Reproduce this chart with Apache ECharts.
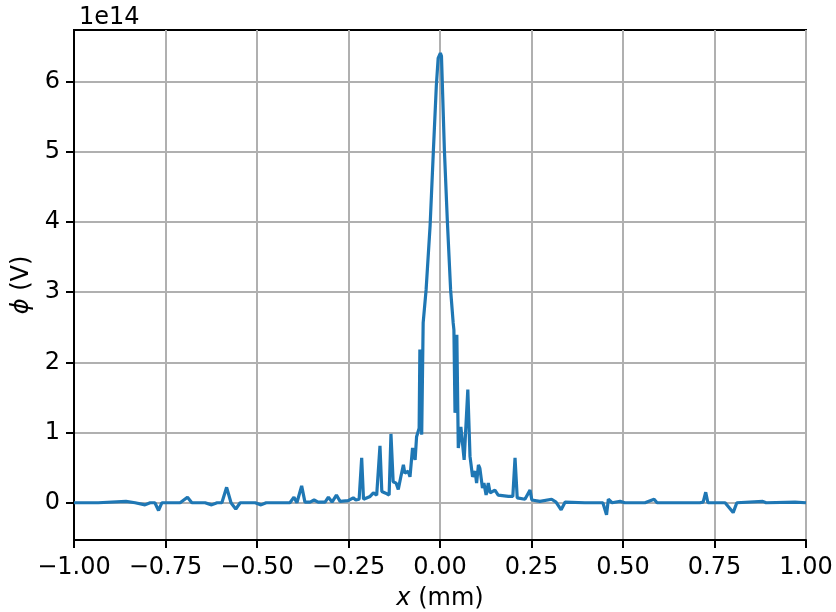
<!DOCTYPE html>
<html>
<head>
<meta charset="utf-8">
<script src="https://cdn.jsdelivr.net/npm/echarts@6/dist/echarts.min.js"></script>
<style>
  html, body { margin: 0; padding: 0; background: #fff; }
  #chart { width: 836px; height: 612px; }
</style>
</head>
<body>
<div id="chart"></div>
<script>
// x positions in mm
const xs = [
  -1.000, -0.934, -0.858, -0.833, -0.806, -0.792, -0.779, -0.769, -0.760, -0.710,
  -0.690, -0.678, -0.642, -0.624, -0.609, -0.596, -0.583, -0.571, -0.558, -0.546,
  -0.505, -0.489, -0.475, -0.410, -0.399, -0.391, -0.378, -0.369, -0.355, -0.344,
  -0.333, -0.314, -0.305, -0.295, -0.283, -0.273, -0.251, -0.246, -0.237, -0.230,
  -0.221, -0.214, -0.209, -0.191, -0.182, -0.173, -0.164, -0.159, -0.150, -0.139,
  -0.134, -0.128, -0.120, -0.114, -0.107, -0.100, -0.096, -0.087, -0.082, -0.075,
  -0.068, -0.064, -0.057, -0.055, -0.050, -0.046, -0.038, -0.027, -0.018, -0.010,
  -0.005, 0.001, 0.004, 0.012, 0.020, 0.029, 0.036, 0.038, 0.041, 0.046,
  0.050, 0.057, 0.066, 0.076, 0.082, 0.089, 0.096, 0.100, 0.105, 0.109,
  0.116, 0.120, 0.126, 0.132, 0.137, 0.150, 0.159, 0.187, 0.199, 0.205,
  0.211, 0.232, 0.246, 0.251, 0.273, 0.305, 0.317, 0.331, 0.342, 0.396,
  0.445, 0.455, 0.460, 0.470, 0.492, 0.505, 0.560, 0.585, 0.593, 0.710,
  0.719, 0.726, 0.732, 0.779, 0.801, 0.811, 0.882, 0.891, 0.970, 1.000
];
// phi in units of 1e14 V
const phi = [
  0, 0, 0.02, 0, -0.03, 0, 0, -0.11, 0, 0,
  0.08, 0, 0, -0.03, 0, 0, 0.22, 0, -0.09, 0,
  0, -0.03, 0, 0, 0.08, 0, 0.24, 0.01, 0.01, 0.04,
  0.01, 0.01, 0.08, 0.01, 0.11, 0.02, 0.03, 0.04, 0.07, 0.04,
  0.05, 0.64, 0.05, 0.09, 0.14, 0.11, 0.81, 0.16, 0.14, 0.11,
  0.98, 0.30, 0.28, 0.19, 0.37, 0.54, 0.42, 0.45, 0.37, 0.78,
  0.61, 0.94, 1.06, 2.18, 0.97, 2.56, 3.03, 3.95, 5.02, 5.94,
  6.33, 6.40, 6.36, 5.02, 4.02, 3.03, 2.56, 2.46, 1.28, 2.39,
  0.78, 1.08, 0.61, 1.61, 0.66, 0.37, 0.45, 0.28, 0.54, 0.49,
  0.21, 0.28, 0.11, 0.28, 0.14, 0.18, 0.11, 0.09, 0.09, 0.64,
  0.07, 0.05, 0.18, 0.04, 0.02, 0.05, 0.01, -0.10, 0.01, 0,
  0, -0.17, 0.05, 0, 0.02, 0, 0, 0.05, 0, 0,
  0.01, 0.15, 0, 0, -0.14, 0, 0.02, 0, 0.01, 0
];
const yTicks = [0, 1, 2, 3, 4, 5, 6];
const yScaleLabel = '1e14';

const font = 'DejaVu Sans';
const chart = echarts.init(document.getElementById('chart'));

const fmtX = v => (v < 0 ? '\u2212' : '') + Math.abs(v).toFixed(2);

chart.setOption({
  animation: false,
  title: {
    text: yScaleLabel,
    left: 74,
    top: 1,
    textStyle: { fontFamily: font, fontSize: 24, fontWeight: 'normal', color: '#000' }
  },
  grid: {
    left: 74, right: 30, top: 30, bottom: 72,
    outerBoundsMode: 'none',
    containLabel: false,
    show: true, borderColor: '#000', borderWidth: 2, backgroundColor: 'transparent'
  },
  xAxis: {
    type: 'value',
    min: -1, max: 1, interval: 0.25,
    name: '{i|x} (mm)',
    nameLocation: 'middle',
    nameGap: 47,
    nameTextStyle: {
      fontFamily: font, fontSize: 24, color: '#000',
      rich: { i: { fontFamily: font, fontSize: 24, fontStyle: 'italic', color: '#000' } }
    },
    axisLine: { show: true, onZero: false, lineStyle: { color: '#000', width: 2 } },
    axisTick: { show: true, length: 8, lineStyle: { color: '#000', width: 2 } },
    axisLabel: { fontFamily: font, fontSize: 24, color: '#000', margin: 16, formatter: fmtX },
    splitLine: { show: true, lineStyle: { color: '#b0b0b0', width: 2 } }
  },
  yAxis: {
    type: 'value',
    min: -0.53, max: 6.73,
    name: '{i|\u03d5} (V)',
    nameLocation: 'middle',
    nameGap: 38,
    nameTextStyle: {
      fontFamily: font, fontSize: 24, color: '#000',
      rich: { i: { fontFamily: font, fontSize: 24, fontStyle: 'italic', color: '#000' } }
    },
    axisLine: { show: true, onZero: false, lineStyle: { color: '#000', width: 2 } },
    axisTick: { show: true, length: 8, customValues: yTicks, lineStyle: { color: '#000', width: 2 } },
    axisLabel: { fontFamily: font, fontSize: 24, color: '#000', margin: 14, customValues: yTicks },
    splitLine: { show: true, lineStyle: { color: '#b0b0b0', width: 2 } }
  },
  series: [{
    type: 'line',
    data: xs.map((x, i) => [x, phi[i]]),
    showSymbol: false,
    lineStyle: { color: '#1f77b4', width: 3.2 },
    itemStyle: { color: '#1f77b4' }
  }]
});
</script>
</body>
</html>
